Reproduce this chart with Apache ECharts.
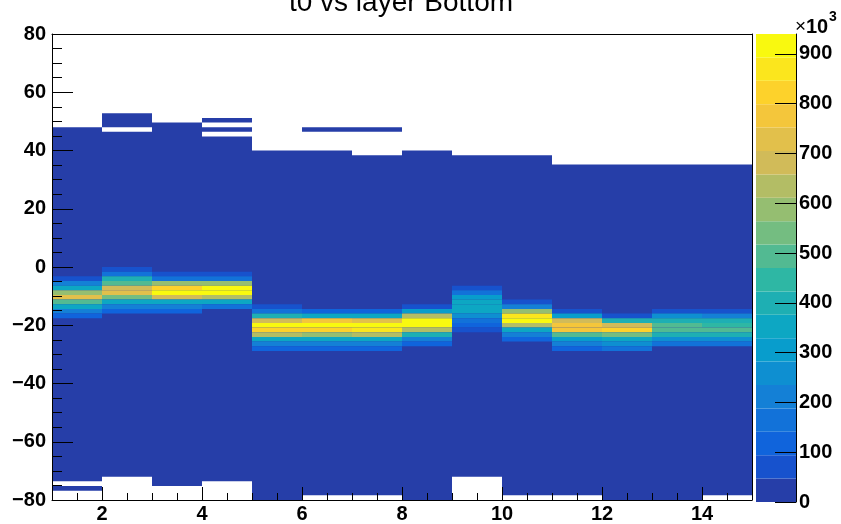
<!DOCTYPE html>
<html>
<head>
<meta charset="utf-8">
<script src="https://cdn.jsdelivr.net/npm/echarts@6/dist/echarts.min.js"></script>
<style>
  html, body { margin: 0; padding: 0; background: #fff; }
  #chart { width: 841px; height: 524px; }
</style>
</head>
<body>
<div id="chart"></div>
<script>
// ---- Binning of the t0 vs layer histogram (Bottom planes) ----
const yLowEdge = -80;          // lower edge of the t0 axis
const yBinWidth = 1.6;         // t0 bin width (100 bins over [-80, 80])
const layerWidth = 1;          // one layer per x bin

// lower edge of each layer bin
const layers = [1, 2, 3, 4, 5, 6, 7, 8, 9, 10, 11, 12, 13, 14];

// occupied t0 bin ranges per layer, inclusive bin indices (0 = [-80, -78.4])
const occupiedBins = [
  [[4, 79], [2, 2]],
  [[5, 78], [80, 82]],
  [[3, 80]],
  [[4, 77], [79, 79], [81, 81]],
  [[0, 74]],
  [[1, 74], [79, 79]],
  [[1, 73], [79, 79]],
  [[0, 74]],
  [[5, 73]],
  [[1, 73]],
  [[1, 71]],
  [[0, 71]],
  [[0, 71]],
  [[1, 71]]
];

// typical entries in an occupied bin away from the t0 peak (x10^3)
const baseCount = 20;

// highest bin index of the t0 peak in each layer
const peakTopBin = [47, 49, 48, 48, 41, 40, 40, 41, 45, 42, 40, 39, 40, 40];

// entries of the peak bins, from peakTopBin downwards (x10^3)
const peakCounts = [
  [85, 190, 340, 580, 720, 500, 345, 200, 105],
  [80, 160, 395, 490, 680, 730, 535, 345, 200, 110],
  [75, 155, 585, 820, 925, 670, 340, 195, 100],
  [70, 150, 575, 905, 935, 640, 335, 150],
  [80, 160, 390, 690, 915, 815, 635, 345, 195, 105],
  [110, 350, 770, 920, 810, 590, 340, 190, 100],
  [105, 345, 725, 925, 860, 625, 340, 195, 100],
  [80, 300, 640, 905, 920, 630, 385, 195, 105],
  [75, 150, 290, 345, 355, 335, 250, 160, 105, 65],
  [75, 200, 580, 870, 915, 635, 345, 195, 100],
  [80, 295, 680, 770, 780, 490, 300, 200, 105],
  [70, 390, 665, 815, 530, 360, 255, 160],
  [75, 250, 395, 485, 500, 400, 255, 155],
  [75, 205, 390, 460, 490, 395, 250, 150]
];

// axis ticks
const xTickValues = [2, 4, 6, 8, 10, 12, 14];
const zTickValues = [0, 100, 200, 300, 400, 500, 600, 700, 800, 900];
const zMax = 940;              // top of the colour scale (x10^3)

// 20 contour levels of the bird palette
const palette = [
  '#263ea8', '#1752cd', '#1064dc', '#1272d9', '#1480d6',
  '#0e8fd1', '#089dcc', '#0da7c3', '#1eafb3', '#2eb7a4',
  '#52ba92', '#74bd81', '#95be71', '#b3bd65', '#d1bb59',
  '#e2c04b', '#f4c63b', '#fdd22b', '#fbe61d', '#f9f90f'
];
const nLevels = palette.length;

function colourFor(count) {
  const lvl = Math.floor(count / (zMax / nLevels));
  return palette[Math.max(0, Math.min(nLevels - 1, lvl))];
}

// ---- cells: [layer, t0 low, t0 high, count] ----
const cells = [];
layers.forEach((x, i) => {
  occupiedBins[i].forEach(([a, b]) => {
    cells.push([x, yLowEdge + yBinWidth * a, yLowEdge + yBinWidth * (b + 1), baseCount]);
  });
  peakCounts[i].forEach((c, k) => {
    const j = peakTopBin[i] - k;
    cells.push([x, yLowEdge + yBinWidth * j, yLowEdge + yBinWidth * (j + 1), c]);
  });
});

// colour bar boxes: [0, low, high, level]
const barBoxes = palette.map((_, i) => [0, zMax / nLevels * i, zMax / nLevels * (i + 1), i]);

const FONT = '"Liberation Sans", Arial, Helvetica, sans-serif';
const labelStyle = { color: '#000', fontFamily: FONT, fontSize: 20, fontWeight: 'bold' };
const black = { color: '#000', width: 1 };

const chart = echarts.init(document.getElementById('chart'), null, { renderer: 'canvas' });

chart.setOption({
  animation: false,
  backgroundColor: '#fff',
  grid: [
    { left: 52, right: 89, top: 34, bottom: 22, containLabel: false },
    { left: 756, right: 45, top: 34, bottom: 22, containLabel: false }
  ],
  xAxis: [
    { // fine ticks every 0.5 and the lower frame line
      gridIndex: 0, type: 'value', position: 'bottom', min: 1, max: 15, interval: 0.5, z: 10,
      axisLine: { show: true, onZero: false, lineStyle: black },
      axisTick: { show: true, inside: true, length: 7, lineStyle: black },
      axisLabel: { show: false }, splitLine: { show: false }
    },
    { // labelled ticks
      gridIndex: 0, type: 'value', position: 'bottom', min: 1, max: 15, z: 11,
      axisLine: { show: false, onZero: false },
      axisTick: { show: true, inside: true, length: 13, customValues: xTickValues, lineStyle: black },
      axisLabel: Object.assign({ show: true, customValues: xTickValues, margin: 4 }, labelStyle),
      splitLine: { show: false }
    },
    { // upper frame line
      gridIndex: 0, type: 'value', position: 'top', min: 1, max: 15, z: 10,
      axisLine: { show: true, onZero: false, lineStyle: black },
      axisTick: { show: false }, axisLabel: { show: false }, splitLine: { show: false }
    },
    { gridIndex: 1, type: 'value', min: 0, max: 1, show: false }
  ],
  yAxis: [
    {
      gridIndex: 0, type: 'value', position: 'left', min: -80, max: 80, interval: 20, z: 10,
      axisLine: { show: true, onZero: false, lineStyle: black },
      axisTick: { show: true, inside: true, length: 21, lineStyle: black },
      minorTick: { show: true, splitNumber: 4, length: 10, lineStyle: black },
      axisLabel: Object.assign({
        margin: 6,
        formatter: v => (v < 0 ? '\u2212' + Math.abs(v) : String(v))
      }, labelStyle),
      splitLine: { show: false }
    },
    { // right frame line
      gridIndex: 0, type: 'value', position: 'right', min: -80, max: 80, z: 10,
      axisLine: { show: true, onZero: false, lineStyle: black },
      axisTick: { show: false }, axisLabel: { show: false }, splitLine: { show: false }
    },
    { // colour scale
      gridIndex: 1, type: 'value', position: 'right', min: 0, max: zMax, z: 10,
      axisLine: { show: true, onZero: false, lineStyle: black },
      axisTick: { show: true, inside: true, length: 21, customValues: zTickValues, lineStyle: black },
      axisLabel: Object.assign({ customValues: zTickValues, margin: 3 }, labelStyle),
      splitLine: { show: false }
    }
  ],
  series: [
    {
      type: 'custom', coordinateSystem: 'cartesian2d', xAxisIndex: 0, yAxisIndex: 0,
      silent: true, clip: true,
      data: cells,
      encode: { x: 0, y: [1, 2] },
      renderItem: (params, api) => {
        const x0 = api.value(0), y0 = api.value(1), y1 = api.value(2), c = api.value(3);
        const p0 = api.coord([x0, y1]);
        const p1 = api.coord([x0 + layerWidth, y0]);
        return {
          type: 'rect',
          shape: { x: p0[0], y: p0[1], width: p1[0] - p0[0], height: p1[1] - p0[1] },
          style: { fill: colourFor(c), stroke: null }
        };
      }
    },
    {
      type: 'custom', coordinateSystem: 'cartesian2d', xAxisIndex: 3, yAxisIndex: 2,
      silent: true,
      data: barBoxes,
      encode: { y: [1, 2] },
      renderItem: (params, api) => {
        const lo = api.value(1), hi = api.value(2), lvl = api.value(3);
        const p0 = api.coord([0, hi]);
        const p1 = api.coord([1, lo]);
        return {
          type: 'rect',
          shape: { x: p0[0], y: p0[1], width: p1[0] - p0[0], height: p1[1] - p0[1] },
          style: { fill: palette[lvl], stroke: null }
        };
      }
    }
  ],
  graphic: [
    {
      type: 'text', x: 401, y: 3, z: 20,
      style: {
        text: 't0 vs layer Bottom', fill: '#000', font: '28px ' + FONT,
        align: 'center', verticalAlign: 'middle'
      }
    },
    {
      type: 'text', x: 795, y: 27, z: 20,
      style: { text: '\u00d7', fill: '#000', font: '19px ' + FONT, align: 'left', verticalAlign: 'middle' }
    },
    {
      type: 'text', x: 806, y: 27, z: 20,
      style: { text: '10', fill: '#000', font: 'bold 20px ' + FONT, align: 'left', verticalAlign: 'middle' }
    },
    {
      type: 'text', x: 829, y: 17, z: 20,
      style: { text: '3', fill: '#000', font: 'bold 14px ' + FONT, align: 'left', verticalAlign: 'middle' }
    }
  ]
});
</script>
</body>
</html>
